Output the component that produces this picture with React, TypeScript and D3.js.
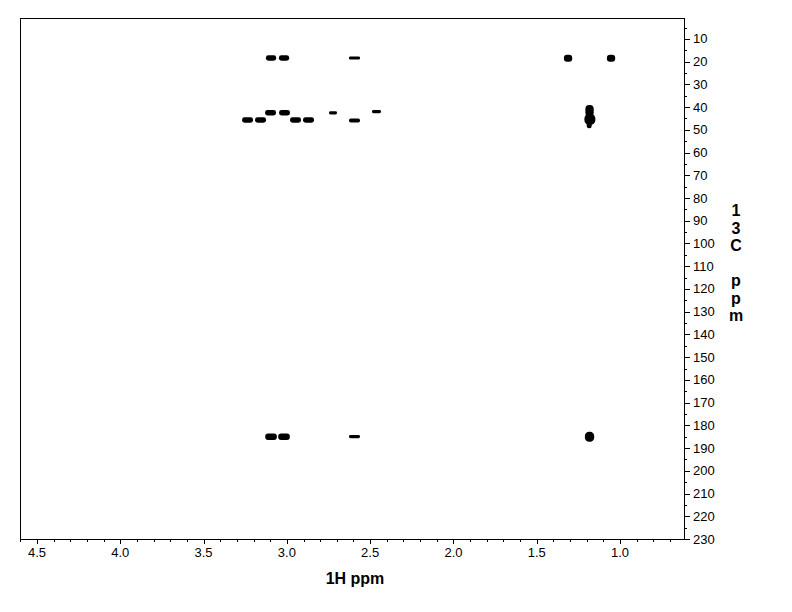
import React from "react";
import * as d3 from "d3";

// 1H chemical shift (ppm) of each cross peak
const peakH = [3.095, 3.017, 2.594, 3.098, 3.014, 2.723, 2.462, 3.236, 3.158, 2.948, 2.870, 2.594, 1.312, 1.054, 1.183, 1.181, 1.185, 3.095, 3.017, 2.594, 1.183];
// 13C chemical shift (ppm) of each cross peak
const peakC = [18.4, 18.4, 18.4, 42.5, 42.5, 42.5, 42.0, 45.7, 45.7, 45.7, 45.7, 45.9, 18.5, 18.5, 41.6, 45.4, 48.0, 185.0, 185.0, 185.0, 185.0];
// contour extent along 1H (ppm)
const peakWidthH = [0.062, 0.062, 0.066, 0.066, 0.066, 0.048, 0.054, 0.066, 0.066, 0.066, 0.066, 0.066, 0.05, 0.05, 0.05, 0.066, 0.03, 0.07, 0.07, 0.066, 0.056];
// contour extent along 13C (ppm)
const peakWidthC = [2.4, 2.4, 1.3, 2.4, 2.4, 1.4, 1.4, 2.4, 2.4, 2.4, 2.4, 1.7, 3.1, 3.1, 5.0, 5.0, 2.6, 2.8, 2.8, 1.4, 4.4];

const hMajorTicks = [4.5, 4.0, 3.5, 3.0, 2.5, 2.0, 1.5, 1.0];
const hMinorTicks = d3.range(46, 6, -1).map((v) => v / 10);
const cMajorTicks = d3.range(10, 231, 10);
const cMinorTicks = d3.range(5, 231, 5);

const xAxisTitle = "1H ppm";
const yAxisTitleChars = ["1", "3", "C", "", "p", "p", "m"];

export default function App() {
  const left = 20, right = 684, top = 18, bottom = 539;
  const x = d3.scaleLinear().domain([4.602, 0.616]).range([left, right]);
  const y = d3.scaleLinear().domain([0.8, 230]).range([top, bottom]);
  const font = "'Liberation Sans', Arial, sans-serif";

  return (
    <svg width={792} height={612} style={{ position: "absolute", left: 0, top: 0, background: "#fff" }}>
      <rect x={0} y={0} width={792} height={612} fill="#fff" />
      {/* frame */}
      <rect x={left + 0.5} y={top + 0.5} width={right - left} height={bottom - top} fill="none" stroke="#000" strokeWidth={1} />
      {/* peaks */}
      {peakH.map((h, i) => {
        const x0 = x(h + peakWidthH[i] / 2);
        const x1 = x(h - peakWidthH[i] / 2);
        const y0 = y(peakC[i] - peakWidthC[i] / 2);
        const y1 = y(peakC[i] + peakWidthC[i] / 2);
        const w = x1 - x0, hh = y1 - y0;
        return (
          <rect key={i} x={x0} y={y0} width={w} height={hh} rx={Math.min(w, hh) / 2.2} ry={Math.min(w, hh) / 2.2} fill="#000" />
        );
      })}
      {/* x axis ticks */}
      {hMinorTicks.map((t) => {
        const major = hMajorTicks.some((m) => Math.abs(m - t) < 1e-6);
        return (
          <line key={"hm" + t} x1={Math.round(x(t)) + 0.5} x2={Math.round(x(t)) + 0.5} y1={bottom} y2={bottom + (major ? 5 : 3)} stroke="#000" />
        );
      })}
      {hMajorTicks.map((t) => (
        <text key={"hl" + t} x={x(t)} y={557} textAnchor="middle" fontFamily={font} fontSize={13} fill="#000">
          {t.toFixed(1)}
        </text>
      ))}
      {/* y axis ticks */}
      {cMinorTicks.map((t) => (
        <line key={"cm" + t} x1={right} x2={right + (t % 10 === 0 ? 6 : 3)} y1={Math.round(y(t)) + 0.5} y2={Math.round(y(t)) + 0.5} stroke="#000" />
      ))}
      {cMajorTicks.map((t) => (
        <text key={"cl" + t} x={693} y={y(t) + 4.5} textAnchor="start" fontFamily={font} fontSize={13} fill="#000">
          {t}
        </text>
      ))}
      {/* titles */}
      <text x={355} y={584} textAnchor="middle" fontFamily={font} fontSize={16} fontWeight="bold" fill="#000">
        {xAxisTitle}
      </text>
      {yAxisTitleChars.map((c, i) => (
        <text key={"yt" + i} x={736} y={216 + i * 17.5} textAnchor="middle" fontFamily={font} fontSize={16} fontWeight="bold" fill="#000">
          {c}
        </text>
      ))}
    </svg>
  );
}
